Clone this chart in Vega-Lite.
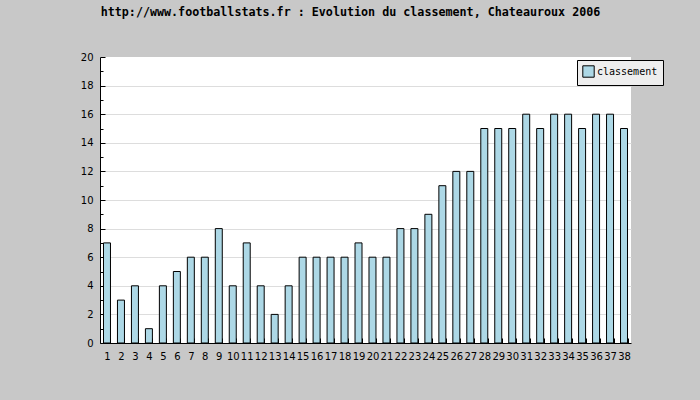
{
  "$schema": "https://vega.github.io/schema/vega-lite/v6.json",
  "width": 531,
  "height": 286,
  "autosize": {"type": "none"},
  "padding": {"left": 100, "top": 57, "right": 69, "bottom": 57},
  "background": "#c8c8c8",
  "title": {
    "text": "http://www.footballstats.fr : Evolution du classement, Chateauroux 2006",
    "font": "DejaVu Sans Mono",
    "fontSize": 11.7,
    "fontWeight": "bold",
    "color": "#000000",
    "anchor": "middle",
    "offset": 33,
    "dx": -15
  },
  "data": {
    "values": [
      {"journee": "1", "classement": 7},
      {"journee": "2", "classement": 3},
      {"journee": "3", "classement": 4},
      {"journee": "4", "classement": 1},
      {"journee": "5", "classement": 4},
      {"journee": "6", "classement": 5},
      {"journee": "7", "classement": 6},
      {"journee": "8", "classement": 6},
      {"journee": "9", "classement": 8},
      {"journee": "10", "classement": 4},
      {"journee": "11", "classement": 7},
      {"journee": "12", "classement": 4},
      {"journee": "13", "classement": 2},
      {"journee": "14", "classement": 4},
      {"journee": "15", "classement": 6},
      {"journee": "16", "classement": 6},
      {"journee": "17", "classement": 6},
      {"journee": "18", "classement": 6},
      {"journee": "19", "classement": 7},
      {"journee": "20", "classement": 6},
      {"journee": "21", "classement": 6},
      {"journee": "22", "classement": 8},
      {"journee": "23", "classement": 8},
      {"journee": "24", "classement": 9},
      {"journee": "25", "classement": 11},
      {"journee": "26", "classement": 12},
      {"journee": "27", "classement": 12},
      {"journee": "28", "classement": 15},
      {"journee": "29", "classement": 15},
      {"journee": "30", "classement": 15},
      {"journee": "31", "classement": 16},
      {"journee": "32", "classement": 15},
      {"journee": "33", "classement": 16},
      {"journee": "34", "classement": 16},
      {"journee": "35", "classement": 15},
      {"journee": "36", "classement": 16},
      {"journee": "37", "classement": 16},
      {"journee": "38", "classement": 15}
    ]
  },
  "mark": {"type": "bar", "stroke": "#000000", "strokeWidth": 1},
  "encoding": {
    "x": {
      "field": "journee",
      "type": "ordinal",
      "sort": null,
      "scale": {"paddingInner": 0.5, "paddingOuter": 0.25},
      "axis": {
        "title": null,
        "labelAngle": 0,
        "tickBand": "extent",
        "tickSize": -5,
        "tickColor": "#000000",
        "domainColor": "#000000",
        "labelColor": "#000000",
        "labelFont": "DejaVu Sans",
        "labelFontSize": 10,
        "labelPadding": 13,
        "grid": false
      }
    },
    "y": {
      "field": "classement",
      "type": "quantitative",
      "scale": {"domain": [0, 20], "nice": false},
      "axis": {
        "title": null,
        "values": [0,1,2,3,4,5,6,7,8,9,10,11,12,13,14,15,16,17,18,19,20],
        "labelExpr": "datum.value % 2 === 0 ? datum.label : ''",
        "tickSize": {"condition": {"test": "datum.value % 2 === 0", "value": -5}, "value": -3},
        "tickColor": "#000000",
        "domainColor": "#000000",
        "labelColor": "#000000",
        "labelFont": "DejaVu Sans",
        "labelFontSize": 10,
        "labelPadding": 12,
        "grid": true,
        "gridColor": {"condition": {"test": "datum.value % 2 === 0 && datum.value > 0 && datum.value < 20", "value": "#dddddd"}, "value": null}
      }
    },
    "color": {
      "datum": "classement",
      "type": "nominal",
      "scale": {"range": ["#add8e6"]},
      "legend": {
        "title": null,
        "orient": "none",
        "legendX": 477,
        "legendY": 3,
        "fillColor": "#eeeeee",
        "strokeColor": "#000000",
        "padding": 5,
        "symbolType": "square",
        "symbolSize": 130,
        "symbolStrokeColor": "#000000",
        "symbolStrokeWidth": 1,
        "labelFont": "DejaVu Sans Mono",
        "labelFontSize": 10,
        "labelColor": "#000000",
        "labelOffset": 2
      }
    }
  },
  "config": {
    "view": {"fill": "#ffffff", "stroke": null},
    "axis": {"domainWidth": 1, "tickWidth": 1}
  }
}
